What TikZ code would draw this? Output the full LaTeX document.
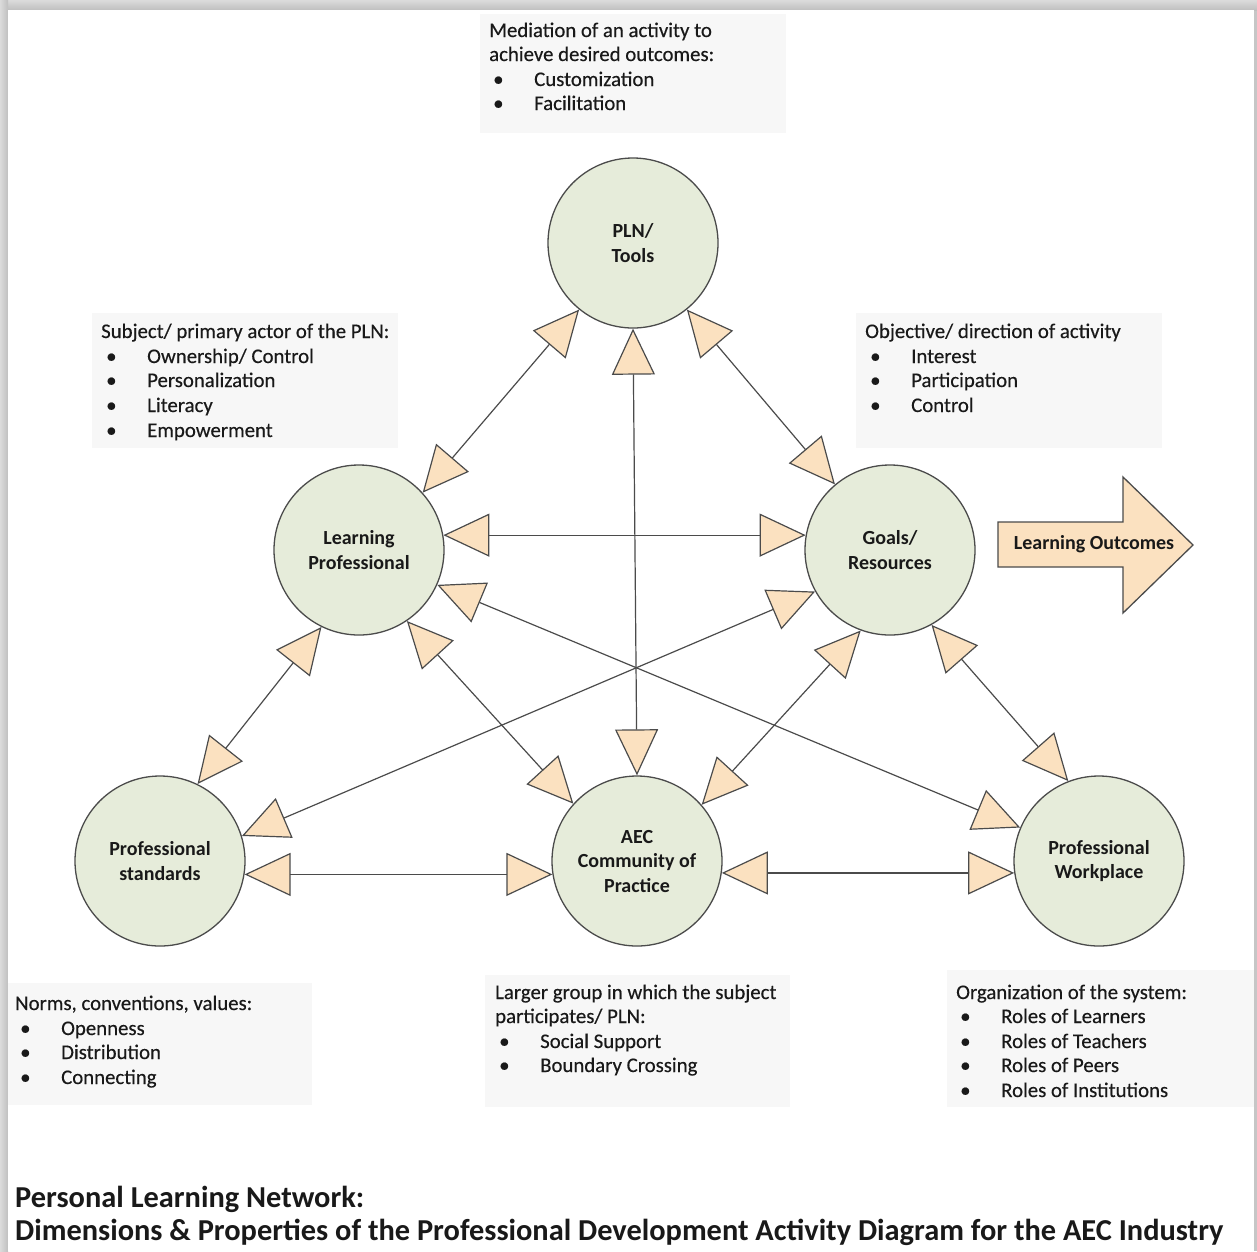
\documentclass[tikz,border=0pt]{standalone}
\usepackage{fontspec}
\setmainfont{Carlito}
\newfontfamily\notefam{Carlito}[FakeBold=0.35]
\usetikzlibrary{arrows.meta}

\definecolor{circfill}{RGB}{230,236,218}
\definecolor{peach}{RGB}{251,225,192}
\definecolor{edge}{RGB}{75,75,75}
\definecolor{boxfill}{RGB}{247,247,247}
\definecolor{ink}{RGB}{25,25,25}

\newcommand\notefont{\notefam\fontsize{20.8}{24.5}\selectfont}
\newcommand\labfont{\fontsize{20}{24.5}\selectfont\bfseries}
\newcommand\titlefont{\fontsize{30.4}{33}\selectfont\bfseries}
\newcommand\bul{\makebox[41pt][l]{\textbullet}}

\tikzset{
  peachtip/.tip={Triangle[length=46pt,width=43pt,fill=peach]},
  hub/.style={circle, draw=edge, line width=1.3pt, fill=circfill,
    minimum size=170pt, inner sep=0pt, align=center, font=\labfont, text=ink},
  link/.style={draw=edge, line width=1.2pt, peachtip-peachtip},
  note/.style={anchor=base west, font=\notefont, text=ink, inner sep=0pt},
  notebox/.style={fill=boxfill},
  heading/.style={anchor=base west, font=\titlefont, text=ink, inner sep=0pt}
}

\begin{document}
\begin{tikzpicture}[x=1pt,y=-1pt]
\useasboundingbox (0,0) rectangle (1257,1251);

% page frame with a soft shadow on the top and left edges
\fill[gray!45] (0,0) rectangle (1257,1251);
\shade[top color=gray!28,bottom color=gray!50] (0,0) rectangle (1257,10);
\shade[left color=gray!28,right color=gray!50] (0,0) rectangle (8,1251);
\fill[white] (8,10) rectangle (1254,1251);

% shaded text panels
\fill[notebox] (480,14) rectangle (786,133);
\fill[notebox] (92,313) rectangle (398,448);
\fill[notebox] (856,313) rectangle (1162,448);
\fill[notebox] (8,983) rectangle (312,1105);
\fill[notebox] (485,975) rectangle (790,1107);
\fill[notebox] (947,970) rectangle (1254,1107);

% activity system nodes
\node[hub] (pln) at (633,243) {PLN/\\Tools};
\node[hub] (lp)  at (359,550) {Learning\\Professional};
\node[hub] (gr)  at (890,550) {Goals/\\Resources};
\node[hub] (ps)  at (160,861) {Professional\\standards};
\node[hub] (aec) at (637,861) {AEC\\Community of\\Practice};
\node[hub] (pw)  at (1099,861) {Professional\\Workplace};

% two-way relations
\draw[link] (pln.231.7) -- (lp.42.6);
\draw[link] (pln.-51.4) -- (gr.130.5);
\draw[link] (pln.270) -- (aec.90);
\draw[link] (lp.10) -- (gr.170);
\draw[link] (lp.-56) -- (aec.138);
\draw[link] (lp.-24) -- (pw.157);
\draw[link] (gr.209) -- (ps.17);
\draw[link] (gr.250) -- (aec.41);
\draw[link] (gr.-61) -- (pw.111);
\draw[link] (lp.244) -- (ps.64);
\draw[link] (ps.-9) -- (aec.189);
\draw[link] (aec.-8) -- (pw.188);

% outcome arrow
\draw[edge, line width=1.3pt, fill=peach, line join=miter]
  (998,522) -- (1123,522) -- (1123,477) -- (1193,545) -- (1123,613)
  -- (1123,567) -- (998,567) -- cycle;
\node[font=\labfont, text=ink] (outcome) at (1094,544) {Learning Outcomes};

% tools panel
\node[note] (med1) at (489,37) {Mediation of an activity to};
\node[note] (med2) at (489,61) {achieve desired outcomes:};
\node[note] (med3) at (493,86) {\bul Customization};
\node[note] (med4) at (493,110) {\bul Facilitation};

% subject panel
\node[note] (sub0) at (101,338) {Subject/ primary actor of the PLN:};
\node[note] (sub1) at (106,363) {\bul Ownership/ Control};
\node[note] (sub2) at (106,387) {\bul Personalization};
\node[note] (sub3) at (106,412) {\bul Literacy};
\node[note] (sub4) at (106,437) {\bul Empowerment};

% object panel
\node[note] (obj0) at (865,338) {Objective/ direction of activity};
\node[note] (obj1) at (870,363) {\bul Interest};
\node[note] (obj2) at (870,387) {\bul Participation};
\node[note] (obj3) at (870,412) {\bul Control};

% rules panel
\node[note] (nor0) at (15,1010) {Norms, conventions, values:};
\node[note] (nor1) at (20,1035) {\bul Openness};
\node[note] (nor2) at (20,1059) {\bul Distribution};
\node[note] (nor3) at (20,1084) {\bul Connecting};

% community panel
\node[note] (grp0) at (495,999) {Larger group in which the subject};
\node[note] (grp1) at (495,1023) {participates/ PLN:};
\node[note] (grp2) at (499,1048) {\bul Social Support};
\node[note] (grp3) at (499,1072) {\bul Boundary Crossing};

% division of labour panel
\node[note] (org0) at (956,999) {Organization of the system:};
\node[note] (org1) at (960,1023) {\bul Roles of Learners};
\node[note] (org2) at (960,1048) {\bul Roles of Teachers};
\node[note] (org3) at (960,1072) {\bul Roles of Peers};
\node[note] (org4) at (960,1097) {\bul Roles of Institutions};

% caption
\node[heading] (cap1) at (15,1207) {Personal Learning Network:};
\node[heading] (cap2) at (15,1240) {Dimensions \& Properties of the Professional Development Activity Diagram for the AEC Industry};
\end{tikzpicture}
\end{document}
